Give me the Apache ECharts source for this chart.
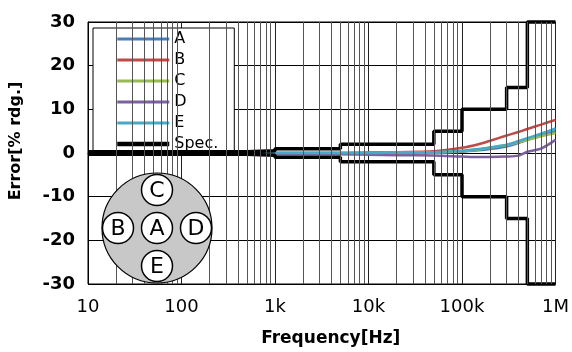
<!DOCTYPE html>
<html><head><meta charset="utf-8">
<script src="https://cdn.jsdelivr.net/npm/echarts@6/dist/echarts.min.js"></script>
<style>html,body{margin:0;padding:0;background:#fff}#c{width:572px;height:352px}</style>
</head><body><div id="c"></div>
<script>
var freqs = [10, 20, 50, 100, 200, 500, 1000, 2000, 5000, 10000, 20000, 50000, 100000, 150000, 200000, 300000, 400000, 500000, 700000, 1000000];
var seriesA = [-0.1,-0.1,-0.1,-0.1,-0.1,0,0,0,0,0,0,0.1,0.3,0.6,0.9,1.5,2.3,3.0,4.0,5.0];
var seriesB = [-0.1,-0.1,-0.1,-0.1,-0.1,0,0,0,0,0.1,0.2,0.4,1.2,2.0,2.8,4.0,4.8,5.5,6.5,7.6];
var seriesC = [-0.1,-0.1,-0.1,-0.1,-0.1,0,0,0,0,0,0.1,0.1,0.4,0.8,1.2,1.8,2.5,3.0,3.8,4.6];
var seriesD = [-0.4,-0.4,-0.4,-0.4,-0.4,-0.3,-0.3,-0.3,-0.3,-0.4,-0.5,-0.6,-0.8,-0.9,-0.9,-0.8,-0.6,0.3,1.0,3.0];
var seriesE = [-0.1,-0.1,-0.1,-0.1,-0.1,0,0,0,0,0,0.1,0.2,0.5,0.9,1.3,1.9,2.7,3.4,4.4,5.6];
var specFreq = [10, 500, 1000, 5000, 50000, 100000, 300000, 500000, 1000000];
var specUpper = [0.3, 0.5, 1, 2, 5, 10, 15, 30, 30];
var specLower = [-0.3, -0.5, -1, -2, -5, -10, -15, -30, -30];
var seriesNames = ['A', 'B', 'C', 'D', 'E'];
var seriesColors = ['#4a7ebb', '#be4b48', '#98b954', '#7d60a0', '#46aac5'];
var xTickLabels = {10: '10', 100: '100', 1000: '1k', 10000: '10k', 100000: '100k', 1000000: '1M'};
var positions = [['C', 0, -1], ['B', -1, 0], ['A', 0, 0], ['D', 1, 0], ['E', 0, 1]];

var minorFreqs = [];
for (var d = 10; d < 1000000; d *= 10) { for (var m = 2; m <= 9; m++) minorFreqs.push(d * m); }

function pairs(xs, ys) { return xs.map(function (x, i) { return [x, ys[i]]; }); }

var font = '"DejaVu Sans", sans-serif';
var chart = echarts.init(document.getElementById('c'));
var series = [{
  type: 'line', data: [], silent: true, z: 1,
  markLine: { silent: true, symbol: 'none', label: { show: false }, animation: false,
    lineStyle: { color: '#555', width: 1, type: 'solid' },
    data: minorFreqs.map(function (f) { return { xAxis: f }; }) }
}];
var dataSets = [seriesA, seriesB, seriesC, seriesD, seriesE];
seriesNames.forEach(function (n, i) {
  series.push({ name: n, type: 'line', symbol: 'none', data: pairs(freqs, dataSets[i]),
    smooth: 0.3, lineStyle: { width: 2.5, color: seriesColors[i] }, itemStyle: { color: seriesColors[i] }, z: 3 });
});
series.push({ name: 'Spec.', type: 'line', symbol: 'none', step: 'end', clip: false, data: pairs(specFreq, specUpper),
  lineStyle: { width: 3.5, color: '#000' }, itemStyle: { color: '#000' }, z: 4 });
series.push({ name: 'Spec.', type: 'line', symbol: 'none', step: 'end', clip: false, data: pairs(specFreq, specLower),
  lineStyle: { width: 3.5, color: '#000' }, itemStyle: { color: '#000' }, z: 4 });

var graphics = [{ type: 'circle', shape: { cx: 157, cy: 228, r: 55 }, style: { fill: '#c8c8c8', stroke: '#000', lineWidth: 1.2 }, z: 10 }];
positions.forEach(function (p) {
  var cx = 157 + p[1] * 39, cy = 228 + p[2] * 38;
  graphics.push({ type: 'circle', shape: { cx: cx, cy: cy, r: 15.5 }, style: { fill: '#fff', stroke: '#000', lineWidth: 1.5 }, z: 11 });
  graphics.push({ type: 'text', x: cx, y: cy + 1, style: { text: p[0], fill: '#000', font: '22px ' + font, textAlign: 'center', textVerticalAlign: 'middle' }, z: 12 });
});

var legendData = seriesNames.map(function (n) { return { name: n, lineStyle: { width: 3 } }; });
legendData.push({ name: 'Spec.', lineStyle: { width: 4.5 } });

chart.setOption({
  animation: false,
  grid: { left: 86, right: 16, top: 22, bottom: 59, show: true, borderColor: '#000', borderWidth: 1, backgroundColor: '#fff' },
  legend: { data: legendData, orient: 'vertical', left: 93, top: 28,
    padding: [3, 16, 2, 22], itemWidth: 52, itemHeight: 14, itemGap: 5,
    itemStyle: { opacity: 0 },
    backgroundColor: '#fff', borderColor: '#000', borderWidth: 1, borderRadius: 0,
    textStyle: { fontFamily: font, fontSize: 16, color: '#000', padding: [3, 0, 0, 0] } },
  xAxis: { type: 'log', logBase: 10, min: 10, max: 1000000,
    name: 'Frequency[Hz]', nameLocation: 'middle', nameGap: 46,
    nameTextStyle: { fontFamily: font, fontSize: 17, fontWeight: 'bold', color: '#000', padding: [0, 0, 0, 18] },
    axisLine: { show: true, lineStyle: { color: '#000' } }, axisTick: { show: false },
    axisLabel: { fontFamily: font, fontSize: 18, color: '#000', margin: 14,
      formatter: function (v) { return xTickLabels[Math.round(v)] || ''; } },
    splitLine: { show: true, lineStyle: { color: '#222', width: 1 } } },
  yAxis: { type: 'value', min: -30, max: 30, interval: 10,
    name: 'Error[% rdg.]', nameLocation: 'middle', nameGap: 64, nameRotate: 90,
    nameTextStyle: { fontFamily: font, fontSize: 16, fontWeight: 'bold', color: '#000', padding: [0, 0, 0, 24] },
    axisLine: { show: true, lineStyle: { color: '#000' } }, axisTick: { show: false },
    axisLabel: { fontFamily: font, fontSize: 18, fontWeight: 'bold', color: '#000', margin: 13 },
    splitLine: { show: true, lineStyle: { color: '#000', width: 1 } } },
  series: series,
  graphic: graphics
});
</script></body></html>
